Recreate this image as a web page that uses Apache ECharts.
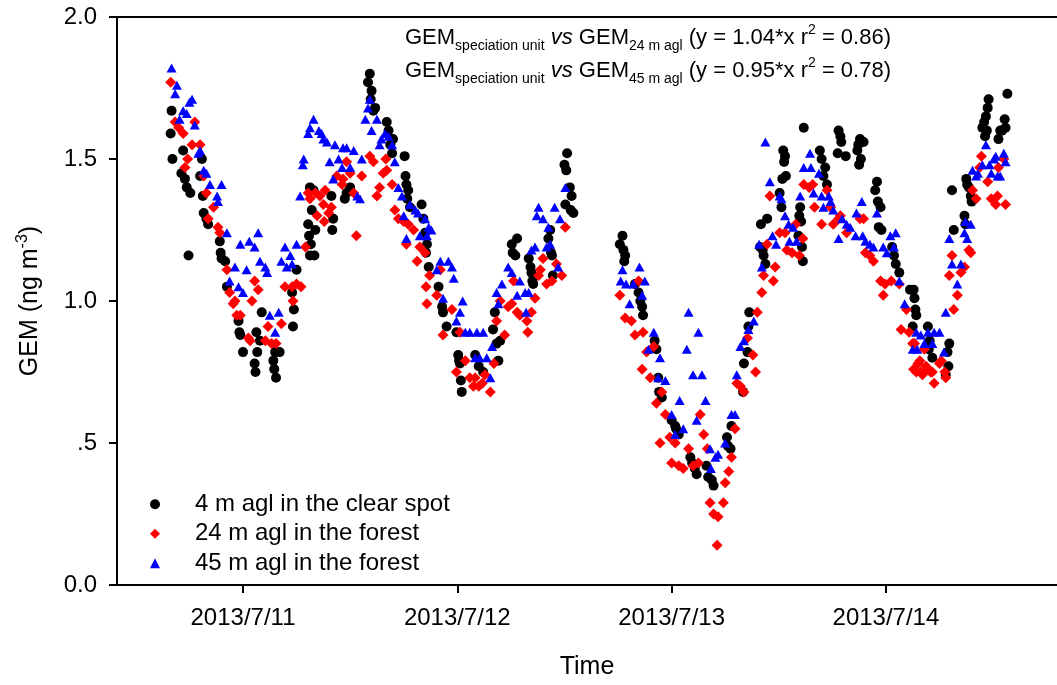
<!DOCTYPE html>
<html>
<head>
<meta charset="utf-8">
<title>GEM time series</title>
<script src="https://cdn.jsdelivr.net/npm/echarts@6/dist/echarts.min.js"></script>
<style>
  html, body { margin: 0; padding: 0; background: #fff; }
  #chart { width: 1057px; height: 685px; }
</style>
</head>
<body>
<div id="chart"></div>
<script>
// Time is given in hours from 2013/7/11 00:00; values are GEM in ng m-3.
const seriesNames = ['4 m agl in the clear spot', '24 m agl in the forest', '45 m agl in the forest'];

const clearSpot4m = [
  [-8.1,1.59],[-8.0,1.67],[-7.9,1.50],[-6.9,1.45],[-6.7,1.53],[-6.5,1.43],[-6.3,1.40],[-6.1,1.16],[-5.9,1.38],
  [-4.8,1.44],[-4.6,1.50],[-4.5,1.37],[-4.4,1.31],[-4.1,1.29],[-3.9,1.27],[-2.6,1.21],[-2.5,1.17],[-2.4,1.15],
  [-2.0,1.14],[-1.8,1.05],[-0.5,0.93],[-0.4,0.89],[-0.3,0.88],[0.0,0.82],[1.3,0.78],[1.4,0.75],[1.5,0.89],
  [1.6,0.82],[1.9,0.86],[2.1,0.96],[3.4,0.79],[3.5,0.76],[3.6,0.82],[3.7,0.73],[4.1,0.82],[5.5,1.03],[5.6,0.91],
  [5.7,0.97],[6.0,1.11],[7.3,1.27],[7.4,1.23],[7.5,1.16],[7.5,1.40],[7.6,1.20],[7.7,1.32],[7.9,1.39],[8.0,1.16],
  [8.1,1.25],[9.9,1.37],[10.0,1.25],[10.1,1.29],[11.4,1.36],[11.6,1.38],[12.0,1.40],[14.0,1.77],[14.2,1.80],
  [14.3,1.71],[14.4,1.74],[14.6,1.67],[14.8,1.68],[16.1,1.63],[16.3,1.60],[16.5,1.55],[16.7,1.52],[16.8,1.57],
  [18.1,1.51],[18.2,1.44],[18.3,1.41],[18.4,1.36],[18.5,1.39],[18.7,1.33],[20.0,1.34],[20.2,1.29],[20.4,1.24],
  [20.5,1.17],[20.6,1.20],[20.8,1.12],[21.9,1.05],[22.3,0.98],[22.4,0.96],[22.8,0.91],[23.9,0.89],[24.1,0.81],
  [24.2,0.79],[24.3,0.78],[24.4,0.72],[24.5,0.68],[26.0,0.81],[26.4,0.77],[26.9,0.75],[28.0,0.90],[28.2,0.96],
  [28.4,0.85],[28.6,0.79],[28.8,0.86],[30.1,1.20],[30.2,1.17],[30.5,1.16],[30.7,1.22],[32.0,1.15],[32.2,1.12],
  [32.3,1.10],[32.4,1.07],[32.5,1.06],[34.2,1.22],[34.4,1.25],[34.5,1.17],[34.6,1.16],[34.7,1.09],[36.0,1.48],
  [36.1,1.34],[36.2,1.46],[36.3,1.52],[36.6,1.40],[36.7,1.32],[36.8,1.37],[37.0,1.31],
  [42.2,1.20],[42.5,1.23],[42.6,1.18],[42.7,1.14],[42.8,1.16],[43.9,1.06],[44.3,1.03],[44.5,1.00],[44.7,0.98],
  [44.8,0.95],[46.1,0.86],[46.3,0.83],[46.5,0.73],[46.6,0.68],[46.9,0.66],[48.0,0.58],[48.4,0.56],[48.5,0.55],
  [48.8,0.53],[50.1,0.45],[50.3,0.43],[50.6,0.41],[50.8,0.39],[51.9,0.42],[52.1,0.38],[52.5,0.37],[52.7,0.35],
  [54.2,0.52],[54.3,0.49],[54.6,0.48],[54.7,0.56],[56.0,0.68],[56.1,0.78],[56.5,0.82],[56.6,0.91],[56.7,0.96],
  [57.9,1.19],[58.0,1.27],[58.2,1.18],[58.3,1.16],[58.5,1.13],[58.7,1.29],[60.1,1.38],[60.3,1.33],[60.4,1.43],
  [60.5,1.53],[60.6,1.49],[60.7,1.51],[60.8,1.44],[62.2,1.23],[62.3,1.30],[62.4,1.33],[62.5,1.28],[62.6,1.19],
  [62.7,1.14],[62.8,1.61],[64.6,1.53],[64.8,1.50],[65.0,1.44],[65.2,1.47],[65.4,1.41],[66.6,1.52],[66.7,1.60],
  [66.9,1.58],[67.0,1.56],[67.5,1.51],[68.8,1.53],[68.9,1.55],[69.0,1.48],[69.1,1.57],[69.2,1.50],[69.5,1.56],
  [70.8,1.39],[71.0,1.42],[71.1,1.35],[71.2,1.26],[71.4,1.33],[71.5,1.25],[72.7,1.19],[72.9,1.16],[73.1,1.13],
  [73.5,1.10],[74.7,1.04],[75.0,0.91],[75.1,1.04],[75.2,1.01],[75.3,0.97],[75.4,0.95],[76.7,0.91],[76.8,0.83],
  [76.9,0.86],[77.2,0.80],[78.7,0.74],[78.9,0.82],[79.0,0.77],[79.1,0.85],[79.4,1.39],[79.6,1.25],[80.8,1.30],
  [80.9,1.27],[81.0,1.43],[81.1,1.41],[81.3,1.40],[81.5,1.37],[81.6,1.35],[82.8,1.61],[83.0,1.63],[83.1,1.58],
  [83.2,1.65],[83.3,1.60],[83.4,1.68],[83.5,1.71],[84.6,1.57],[84.8,1.60],[85.0,1.60],[85.3,1.64],[85.4,1.61],
  [85.6,1.73]
];

const forest24m = [
  [-8.1,1.77],[-7.6,1.63],[-7.2,1.61],[-6.7,1.59],[-6.5,1.47],[-6.2,1.50],[-5.7,1.55],[-5.4,1.63],[-4.8,1.55],
  [-4.4,1.44],[-4.1,1.38],[-3.9,1.29],[-3.3,1.33],[-2.8,1.26],[-2.6,1.24],[-1.8,1.11],[-1.5,1.03],[-1.1,0.99],
  [-0.9,1.00],[-0.7,0.95],[-0.3,0.95],[0.6,0.87],[0.8,0.86],[1.0,1.00],[1.3,1.07],[1.7,1.04],[2.5,0.86],[2.8,0.91],
  [3.2,0.85],[3.7,0.85],[4.3,0.92],[4.7,1.05],[5.5,1.05],[5.6,1.00],[6.0,1.06],[6.5,1.05],[7.0,1.19],[7.3,1.38],
  [7.5,1.36],[8.1,1.38],[8.3,1.30],[8.6,1.37],[9.0,1.34],[9.1,1.28],[9.2,1.39],[9.6,1.31],[9.9,1.33],[10.5,1.44],
  [11.1,1.41],[11.2,1.43],[11.6,1.49],[12.0,1.45],[12.4,1.38],[12.7,1.23],[13.3,1.44],[14.2,1.51],[14.6,1.49],
  [15.0,1.37],[15.3,1.40],[15.7,1.45],[16.0,1.50],[16.1,1.46],[16.7,1.41],[17.0,1.32],[17.4,1.29],[18.0,1.28],
  [18.3,1.20],[18.5,1.27],[19.1,1.25],[19.5,1.14],[19.8,1.19],[20.4,1.17],[20.5,1.05],[20.6,0.99],[20.9,1.09],
  [21.7,1.02],[22.1,1.11],[22.4,0.88],[23.4,0.97],[23.9,0.75],[24.3,0.89],[24.9,0.79],[25.4,0.73],[25.8,0.70],
  [26.0,0.73],[26.4,0.70],[26.8,0.71],[27.1,0.74],[27.7,0.68],[28.1,0.78],[28.4,0.93],[28.8,1.00],[29.3,0.88],
  [29.7,0.98],[30.1,0.99],[30.3,1.07],[30.7,0.96],[31.0,0.95],[31.8,0.93],[31.9,0.89],[32.3,0.96],[32.7,1.01],
  [33.1,1.09],[33.3,1.11],[33.6,1.15],[34.0,1.06],[34.6,1.07],[35.1,1.13],[35.7,1.09],[36.1,1.26],
  [42.2,1.02],[42.8,0.94],[43.5,0.93],[43.9,0.88],[44.3,1.07],[44.7,0.76],[44.8,0.89],[45.2,0.82],[45.6,0.73],
  [46.0,0.84],[46.3,0.64],[46.7,0.50],[46.9,0.68],[47.3,0.60],[47.8,0.52],[48.0,0.43],[48.4,0.50],[48.8,0.42],
  [49.3,0.41],[49.9,0.48],[50.4,0.42],[51.0,0.43],[51.2,0.60],[51.6,0.53],[52.0,0.48],[52.3,0.29],[52.7,0.25],
  [53.1,0.14],[53.2,0.24],[53.8,0.29],[54.0,0.36],[54.4,0.40],[54.7,0.45],[55.1,0.55],[55.3,0.71],[55.7,0.70],
  [56.1,0.68],[56.5,0.87],[57.1,0.81],[57.4,0.75],[57.6,0.96],[58.1,1.03],[58.3,1.09],[58.7,1.20],[59.0,1.37],
  [59.4,1.07],[59.6,1.12],[60.1,1.24],[60.7,1.24],[60.9,1.18],[61.5,1.17],[61.9,1.27],[62.3,1.16],[62.7,1.22],
  [62.8,1.41],[63.4,1.40],[63.8,1.41],[64.0,1.33],[64.8,1.27],[65.4,1.39],[65.8,1.33],[66.1,1.27],[66.7,1.29],
  [66.9,1.30],[67.6,1.24],[69.1,1.29],[69.5,1.29],[69.7,1.17],[70.2,1.16],[70.6,1.14],[71.4,1.07],[71.7,1.02],
  [71.9,1.06],[72.6,1.07],[73.5,1.06],[73.7,0.90],[74.3,0.97],[74.6,0.89],[75.0,0.85],[75.1,0.76],[75.2,0.85],
  [75.4,0.75],[75.6,0.78],[75.8,0.79],[75.9,0.75],[76.1,0.74],[76.3,0.83],[76.5,0.77],[76.7,0.76],[77.0,0.75],
  [77.2,0.75],[77.4,0.71],[78.0,0.78],[78.2,0.79],[78.6,0.75],[78.7,0.73],[79.1,1.09],[79.4,1.16],[79.6,0.97],
  [80.0,1.02],[80.4,1.10],[80.8,1.12],[81.3,1.18],[81.5,1.17],[81.7,1.39],[82.1,1.36],[82.5,1.47],[82.7,1.51],
  [83.4,1.42],[83.8,1.36],[84.3,1.34],[84.5,1.37],[84.6,1.47],[85.2,1.50],[85.4,1.34]
];

const forest45m = [
  [-8.0,1.82],[-7.6,1.73],[-7.4,1.76],[-7.1,1.64],[-6.7,1.67],[-6.3,1.66],[-6.0,1.70],[-5.7,1.71],[-5.4,1.62],
  [-5.0,1.52],[-4.8,1.53],[-4.4,1.46],[-4.1,1.45],[-3.7,1.41],[-2.9,1.37],[-2.8,1.35],[-2.4,1.41],[-1.8,1.24],
  [-1.5,1.07],[-0.9,1.12],[-0.5,1.05],[-0.3,1.20],[0.0,1.03],[0.4,1.11],[0.7,1.21],[1.3,1.19],[1.7,1.24],[1.9,1.14],
  [2.5,1.12],[2.7,1.10],[3.0,0.95],[3.6,0.89],[4.0,0.96],[4.3,1.14],[4.7,1.19],[4.9,1.12],[5.3,1.16],[5.5,1.13],
  [6.0,1.20],[6.4,1.37],[6.7,1.48],[6.8,1.50],[7.3,1.59],[7.5,1.61],[7.9,1.64],[8.5,1.60],[8.8,1.59],[9.0,1.57],
  [9.4,1.56],[9.7,1.49],[10.1,1.43],[10.3,1.55],[10.7,1.50],[11.1,1.47],[11.2,1.54],[11.6,1.54],[12.0,1.47],
  [12.4,1.53],[12.8,1.37],[13.1,1.36],[13.3,1.50],[13.7,1.64],[14.0,1.68],[14.2,1.71],[14.4,1.60],[15.0,1.64],
  [15.3,1.55],[15.5,1.57],[15.9,1.59],[16.3,1.58],[16.7,1.55],[17.0,1.49],[17.4,1.40],[17.8,1.37],[18.0,1.30],
  [18.3,1.22],[18.7,1.34],[19.3,1.32],[19.6,1.31],[19.8,1.23],[20.4,1.29],[20.6,1.23],[20.8,1.26],[21.1,1.25],
  [21.7,1.11],[22.1,1.14],[22.4,1.01],[23.0,1.14],[23.4,1.12],[23.6,1.08],[23.9,0.93],[24.3,0.96],[24.6,1.00],
  [24.9,0.89],[25.4,0.89],[26.0,0.80],[26.2,0.89],[26.5,0.80],[26.9,0.89],[27.3,0.80],[27.7,0.73],[27.9,0.84],
  [28.4,1.03],[28.6,0.99],[29.0,1.06],[29.7,1.12],[30.1,1.10],[30.7,1.02],[31.0,1.07],[31.6,1.03],[31.7,0.96],
  [32.0,1.03],[32.3,1.18],[32.7,1.19],[32.9,1.30],[33.1,1.33],[33.6,1.29],[34.0,1.19],[34.2,1.26],[34.4,1.20],
  [34.9,1.33],[35.3,1.12],[35.5,1.29],[36.1,1.40],
  [42.3,1.07],[42.5,1.11],[42.9,1.06],[43.3,0.99],[43.7,1.06],[44.4,1.12],[44.7,1.02],[45.0,1.07],[45.4,0.83],
  [46.0,0.89],[46.5,0.73],[46.7,0.80],[47.3,0.72],[48.0,0.60],[48.4,0.53],[48.9,0.65],[49.3,0.55],[49.7,0.83],
  [49.9,0.96],[50.4,0.74],[50.8,0.58],[51.0,0.89],[51.4,0.74],[51.8,0.65],[52.3,0.48],[52.4,0.41],[52.9,0.45],
  [53.2,0.46],[54.0,0.50],[54.7,0.60],[55.1,0.60],[55.3,0.74],[55.7,0.84],[56.1,0.86],[56.6,0.90],[57.2,0.93],
  [57.8,1.20],[58.1,1.12],[58.5,1.56],[59.0,1.42],[59.3,1.23],[59.7,1.20],[60.1,1.37],[60.3,1.36],[60.7,1.30],
  [61.1,1.27],[61.2,1.21],[61.6,1.26],[62.0,1.21],[62.4,1.37],[62.8,1.47],[63.5,1.52],[63.6,1.47],[63.9,1.38],
  [64.5,1.45],[64.8,1.37],[65.0,1.33],[65.6,1.37],[65.8,1.35],[66.1,1.32],[66.7,1.22],[67.1,1.29],[67.6,1.27],
  [68.0,1.26],[68.6,1.23],[68.7,1.31],[69.3,1.35],[69.4,1.23],[69.7,1.21],[70.2,1.20],[70.6,1.19],[71.0,1.31],
  [71.7,1.19],[72.1,1.17],[72.5,1.23],[72.9,1.19],[73.1,1.24],[73.5,1.07],[74.1,0.99],[75.0,0.83],[75.4,0.89],
  [75.5,0.83],[75.9,0.88],[76.3,0.85],[76.7,0.89],[77.2,0.85],[77.4,0.89],[78.0,0.89],[78.5,0.82],[78.7,0.96],
  [79.1,1.22],[79.4,1.13],[80.0,1.06],[80.4,1.13],[80.8,1.24],[80.9,1.28],[81.1,1.22],[81.5,1.27],[81.7,1.46],
  [82.1,1.44],[82.3,1.45],[82.8,1.48],[83.2,1.55],[83.6,1.48],[83.8,1.45],[84.1,1.50],[84.3,1.51],[84.5,1.44],
  [84.8,1.44],[85.2,1.52],[85.4,1.49]
];

// Axis ticks and their labels
const xTickHours = [0, 24, 48, 72];
const xTickLabels = ['2013/7/11', '2013/7/12', '2013/7/13', '2013/7/14'];
const yTickLabels = ['0.0', '.5', '1.0', '1.5', '2.0'];

const FONT = '"Liberation Sans", Arial, sans-serif';
const X_MIN = -14.11, X_MAX = 91.16;

const chart = echarts.init(document.getElementById('chart'), null, { renderer: 'canvas' });

const axisLineStyle = { color: '#000', width: 2 };

chart.setOption({
  animation: false,
  backgroundColor: '#fff',
  grid: { left: 117, right: 0, top: 17, bottom: 100 },
  xAxis: [{
    type: 'value',
    min: X_MIN, max: X_MAX,
    position: 'bottom',
    axisLine: { show: true, onZero: false, lineStyle: axisLineStyle },
    axisTick: { show: true, inside: false, length: 8, lineStyle: axisLineStyle, customValues: xTickHours },
    axisLabel: {
      customValues: xTickHours,
      margin: 21, fontSize: 24, color: '#000', fontFamily: FONT,
      formatter: v => xTickLabels[xTickHours.indexOf(Math.round(v))] || ''
    },
    splitLine: { show: false },
    name: 'Time', nameLocation: 'middle', nameGap: 70,
    nameTextStyle: { fontSize: 25, color: '#000', fontFamily: FONT }
  }, {
    type: 'value',
    min: X_MIN, max: X_MAX,
    position: 'top',
    axisLine: { show: true, onZero: false, lineStyle: axisLineStyle },
    axisTick: { show: false },
    axisLabel: { show: false },
    splitLine: { show: false }
  }],
  yAxis: {
    type: 'value',
    min: 0, max: 2, interval: 0.5,
    axisLine: { show: true, onZero: false, lineStyle: axisLineStyle },
    axisTick: { show: true, inside: false, length: 8, lineStyle: axisLineStyle },
    axisLabel: {
      margin: 20, fontSize: 24, color: '#000', fontFamily: FONT,
      formatter: v => yTickLabels[Math.round(v / 0.5)]
    },
    splitLine: { show: false },
    name: 'GEM (ng m{sup|-3})', nameLocation: 'middle', nameGap: 72,
    nameTextStyle: {
      fontSize: 25, color: '#000', fontFamily: FONT, lineHeight: 30,
      rich: { sup: { fontSize: 16, lineHeight: 16, verticalAlign: 'top', color: '#000', fontFamily: FONT } }
    }
  },
  legend: {
    orient: 'vertical', left: 145, top: 487,
    itemWidth: 10, itemHeight: 10, itemGap: 5,
    textStyle: { fontSize: 24, lineHeight: 24.5, color: '#000', fontFamily: FONT, padding: [0, 0, 0, 30] },
    data: [
      { name: seriesNames[0], icon: 'circle' },
      { name: seriesNames[1], icon: 'diamond' },
      { name: seriesNames[2], icon: 'triangle' }
    ]
  },
  series: [
    { name: seriesNames[0], type: 'scatter', symbol: 'circle', symbolSize: 10,
      itemStyle: { color: '#000000', opacity: 1 }, data: clearSpot4m },
    { name: seriesNames[1], type: 'scatter', symbol: 'diamond', symbolSize: 11,
      itemStyle: { color: '#ff0000', opacity: 1 }, data: forest24m },
    { name: seriesNames[2], type: 'scatter', symbol: 'triangle', symbolSize: [10, 9],
      itemStyle: { color: '#0000ff', opacity: 1 }, data: forest45m }
  ],
  graphic: (function () {
    const rich = {
      m: { fontSize: 22, lineHeight: 30, verticalAlign: 'middle', fontFamily: FONT, fill: '#000' },
      i: { fontSize: 22, lineHeight: 30, verticalAlign: 'middle', fontStyle: 'italic', fontFamily: FONT, fill: '#000' },
      s: { fontSize: 14, lineHeight: 14, verticalAlign: 'bottom', fontFamily: FONT, fill: '#000' },
      p: { fontSize: 14, lineHeight: 22, verticalAlign: 'top', fontFamily: FONT, fill: '#000' }
    };
    const line = (h, slope, r2) =>
      '{m|GEM}{s|speciation unit}{m| }{i|vs}{m| GEM}{s|' + h + '}{m| (y = ' + slope + '*x r}{p|2}{m| = ' + r2 + ')}';
    return [
      { type: 'text', left: 405, top: 23, z: 10, style: { text: line('24 m agl', '1.04', '0.86'), rich: rich } },
      { type: 'text', left: 405, top: 56, z: 10, style: { text: line('45 m agl', '0.95', '0.78'), rich: rich } }
    ];
  })()
});
</script>
</body>
</html>
